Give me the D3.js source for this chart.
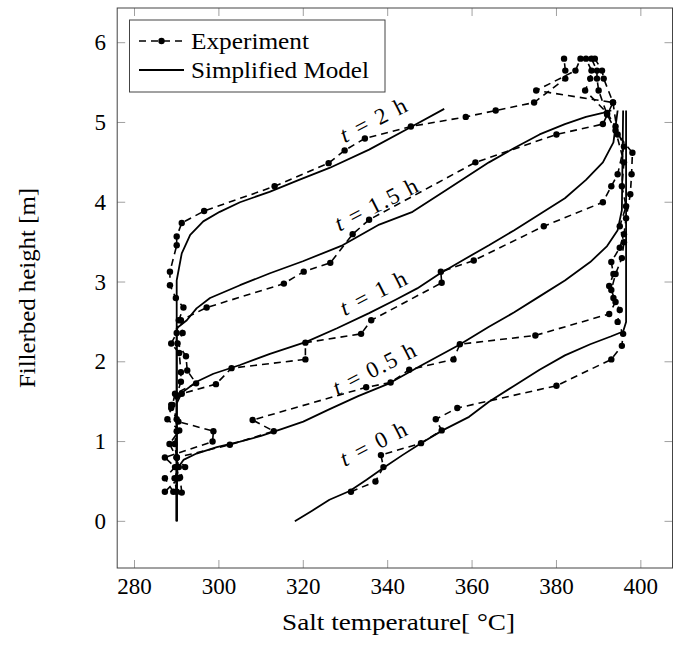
<!DOCTYPE html>
<html>
<head>
<meta charset="utf-8">
<script src="https://cdn.jsdelivr.net/npm/d3@7"></script>
<style>
  body { margin: 0; background: #fff; }
  svg text { font-family: 'Liberation Serif', 'DejaVu Serif', serif; fill: #000; }
</style>
</head>
<body>
<script>
// Constants
const width = 673;
const height = 648;
const xAxisLabel = 'Salt temperature[ \u00B0C]';
const yAxisLabel = 'Fillerbed height [m]';
const xTicks = [280, 300, 320, 340, 360, 380, 400];
const yTicks = [0, 1, 2, 3, 4, 5, 6];
const seriesNames = ['Experiment', 'Simplified Model'];
const timeLabels = ['2', '1.5', '1', '0.5', '0'];

// Model curves [temperature, height]
const model0 = [[318,0],[322,0.13],[326.2,0.27],[331,0.38],[335,0.52],[339.3,0.68],[343.5,0.83],[347.9,0.98],[353,1.14],[359.3,1.31],[364,1.5],[370,1.7],[376,1.9],[382,2.08],[388,2.22],[393,2.32],[395.8,2.38],[396.5,2.5],[396.5,5.15]];
const model05 = [[290,0],[290,0.65],[291.6,0.77],[294.7,0.85],[299.5,0.93],[305,1.0],[310,1.07],[315,1.16],[320,1.25],[326,1.4],[333,1.57],[340.4,1.73],[347.5,1.94],[356.9,2.21],[364,2.44],[370,2.62],[376,2.82],[382,3.02],[388,3.25],[392,3.45],[394.5,3.65],[395.5,3.9],[395.8,5.15]];
const model1 = [[290,0],[290,1.48],[291.2,1.61],[294.7,1.75],[298.7,1.85],[305,1.96],[312.1,2.1],[320.7,2.25],[328,2.42],[335.6,2.61],[342,2.78],[347,2.92],[352.2,3.1],[358,3.28],[364,3.46],[370,3.65],[376,3.85],[382,4.05],[387,4.28],[391,4.5],[393.5,4.75],[394.5,5.15]];
const model15 = [[290,0],[290,2.42],[292.4,2.52],[294.7,2.67],[297.9,2.8],[305,2.96],[312.1,3.11],[319.9,3.26],[329.3,3.46],[338,3.72],[345.9,3.88],[353.8,4.15],[364,4.5],[370,4.68],[376,4.85],[382,4.98],[387,5.07],[391,5.12],[393,5.15]];
const model2 = [[290,0],[290,3.02],[291.2,3.36],[293.2,3.59],[296.3,3.76],[300.2,3.88],[305,4.0],[312,4.13],[319,4.28],[326.2,4.43],[335.6,4.66],[345.1,4.93],[353.4,5.17]];

// Experiment curves [temperature, height]
const exp0 = [[331.3,0.37],[337.1,0.5],[339,0.68],[338.4,0.83],[347.9,0.98],[352.8,1.14],[351.4,1.28],[356.5,1.42],[380,1.7],[393,2.03],[395.5,2.2],[395.8,2.35],[394.5,2.5],[395,2.65],[393.5,2.8],[392.5,2.95],[393.5,3.1],[393,3.25],[395,3.43],[396,3.6],[396.5,3.8],[397.5,4.1],[397.8,4.35],[398,4.62],[394.5,4.85],[393.4,5.25],[391.2,5.55],[390.8,5.65],[389.1,5.8]];
const exp05 = [[291.2,0.36],[290.8,0.55],[292,0.68],[290,0.8],[302.6,0.96],[313,1.13],[308,1.27],[334.9,1.68],[340.7,1.74],[345.1,1.9],[355.6,2.03],[357.1,2.22],[375,2.33],[392.5,2.6],[394,2.75],[393,2.9],[394,3.1],[395.5,3.3],[396,3.5],[395,3.7],[396.5,3.95],[395.5,4.2],[396,4.5],[394,4.9],[392,5.1],[390,5.4],[389.6,5.55],[389.6,5.65],[388.3,5.8]];
const exp1 = [[289.2,0.37],[287.2,0.54],[289.6,0.68],[287.2,0.8],[298.5,1.0],[298.7,1.13],[290.4,1.25],[288.7,1.46],[291.2,1.6],[299.3,1.72],[303,1.92],[320.5,2.03],[320.5,2.24],[333.7,2.35],[336.1,2.52],[352.8,2.99],[352.6,3.13],[360.4,3.27],[377,3.7],[391,4.0],[393,4.2],[394.5,4.35],[396,4.7],[394,4.95],[392,5.12],[386.8,5.4],[388,5.55],[388.3,5.65],[387,5.8]];
const exp15 = [[287.2,0.37],[290.5,0.54],[290,0.68],[290,0.8],[288.3,0.97],[290.6,1.14],[287.8,1.28],[289,1.46],[289.6,1.6],[294.6,1.73],[292.5,1.89],[292.2,2.07],[290.2,2.23],[291.4,2.36],[291,2.52],[297.1,2.68],[315.4,2.98],[320.1,3.13],[326.4,3.24],[331.7,3.6],[335.6,3.78],[360.8,4.5],[380,4.85],[391,4.98],[393.4,5.25],[375.2,5.4],[384.5,5.65],[385.7,5.8]];
const exp2 = [[290,0.37],[289.5,0.54],[290.5,0.68],[290,0.8],[289.5,0.97],[290,1.13],[290,1.28],[288.7,1.42],[290,1.58],[291,1.75],[291,1.87],[290.6,2.11],[288.7,2.23],[290,2.36],[290.5,2.52],[291.6,2.68],[289.8,2.8],[288.4,2.96],[288.4,3.13],[290,3.46],[290,3.57],[291.2,3.74],[296.5,3.89],[313.2,4.2],[326,4.49],[329.8,4.65],[334.6,4.8],[345.5,4.95],[358.5,5.07],[365.6,5.15],[374.7,5.25],[382.1,5.55],[382.1,5.65],[381.8,5.8]];

// Start of each "t = .. h" label (baseline left), in data units
const labelT = [329.8, 328.6, 329.8, 328.1, 329.8];
const labelH = [4.74, 3.63, 2.57, 1.57, 0.68];

const models = [model0, model05, model1, model15, model2];
const experiments = [exp0, exp05, exp1, exp15, exp2];

// Scales
const x = d3.scaleLinear().domain([275.9, 407.5]).range([117.2, 672.5]);
const y = d3.scaleLinear().domain([-0.585, 6.435]).range([568, 8]);

const svg = d3.select('body').append('svg')
  .attr('width', width)
  .attr('height', height);

const x0 = x.range()[0], x1 = x.range()[1];
const y0 = y.range()[0], y1 = y.range()[1];

// Ticks (inside, on all four sides)
const tickLen = 8;
const ticks = svg.append('g').attr('stroke', '#888').attr('stroke-width', 0.8);
xTicks.forEach(t => {
  ticks.append('line').attr('x1', x(t)).attr('x2', x(t)).attr('y1', y0).attr('y2', y0 - tickLen);
  ticks.append('line').attr('x1', x(t)).attr('x2', x(t)).attr('y1', y1).attr('y2', y1 + tickLen);
});
yTicks.forEach(t => {
  ticks.append('line').attr('y1', y(t)).attr('y2', y(t)).attr('x1', x0).attr('x2', x0 + tickLen);
  ticks.append('line').attr('y1', y(t)).attr('y2', y(t)).attr('x1', x1).attr('x2', x1 - tickLen);
});

// Tick labels
svg.append('g').selectAll('text').data(xTicks).enter().append('text')
  .attr('x', d => x(d)).attr('y', 594)
  .attr('text-anchor', 'middle').attr('font-size', '23px')
  .text(d => d);
svg.append('g').selectAll('text').data(yTicks).enter().append('text')
  .attr('x', 106).attr('y', d => y(d) + 7.5)
  .attr('text-anchor', 'end').attr('font-size', '23px')
  .text(d => d);

// Axis titles
svg.append('text')
  .attr('x', 398.5).attr('y', 630)
  .attr('text-anchor', 'middle').attr('font-size', '23px')
  .attr('textLength', 233).attr('lengthAdjust', 'spacingAndGlyphs')
  .text(xAxisLabel);
svg.append('text')
  .attr('transform', `translate(35, ${(y0 + y1) / 2}) rotate(-90)`)
  .attr('text-anchor', 'middle').attr('font-size', '23px')
  .attr('textLength', 200).attr('lengthAdjust', 'spacingAndGlyphs')
  .text(yAxisLabel);

const line = d3.line().x(d => x(d[0])).y(d => y(d[1]));

// Model lines
svg.append('g').selectAll('path').data(models).enter().append('path')
  .attr('d', line)
  .attr('fill', 'none').attr('stroke', '#000').attr('stroke-width', 1.8)
  .attr('stroke-linejoin', 'round');

// Experiment lines + dots
svg.append('g').selectAll('path').data(experiments).enter().append('path')
  .attr('d', line)
  .attr('fill', 'none').attr('stroke', '#000').attr('stroke-width', 1.6)
  .attr('stroke-dasharray', '7,5');
experiments.forEach(e => {
  svg.append('g').selectAll('circle').data(e).enter().append('circle')
    .attr('cx', d => x(d[0])).attr('cy', d => y(d[1])).attr('r', 3.2)
    .attr('fill', '#000');
});

// "t = .. h" labels, sloped along the curves
const lbl = svg.append('g').selectAll('text').data(timeLabels).enter().append('text')
  .attr('transform', (d, i) => `translate(${x(labelT[i])}, ${y(labelH[i])}) rotate(-27)`)
  .attr('font-size', '23px')
  .attr('textLength', d => d.length > 1 ? 90 : 72)
  .attr('lengthAdjust', 'spacing');
lbl.append('tspan').attr('font-style', 'italic').text('t');
lbl.append('tspan').text(d => ' = ' + d + ' h');

// Frame
svg.append('rect')
  .attr('x', x0).attr('y', y1).attr('width', x1 - x0).attr('height', y0 - y1)
  .attr('fill', 'none').attr('stroke', '#444').attr('stroke-width', 1);

// Legend
const leg = svg.append('g');
leg.append('rect').attr('x', 129.5).attr('y', 20).attr('width', 255.5).attr('height', 72)
  .attr('fill', '#fff').attr('stroke', '#444').attr('stroke-width', 1);
leg.append('line').attr('x1', 139).attr('x2', 184).attr('y1', 41).attr('y2', 41)
  .attr('stroke', '#000').attr('stroke-width', 1.6).attr('stroke-dasharray', '7,5');
leg.append('circle').attr('cx', 161.5).attr('cy', 41).attr('r', 3.2).attr('fill', '#000');
leg.append('line').attr('x1', 139).attr('x2', 184).attr('y1', 70).attr('y2', 70)
  .attr('stroke', '#000').attr('stroke-width', 1.8);
leg.selectAll('text').data(seriesNames).enter().append('text')
  .attr('x', 191).attr('y', (d, i) => 49 + i * 29)
  .attr('font-size', '23px')
  .attr('textLength', (d, i) => i === 0 ? 118 : 178)
  .attr('lengthAdjust', 'spacingAndGlyphs')
  .text(d => d);
</script>
</body>
</html>
